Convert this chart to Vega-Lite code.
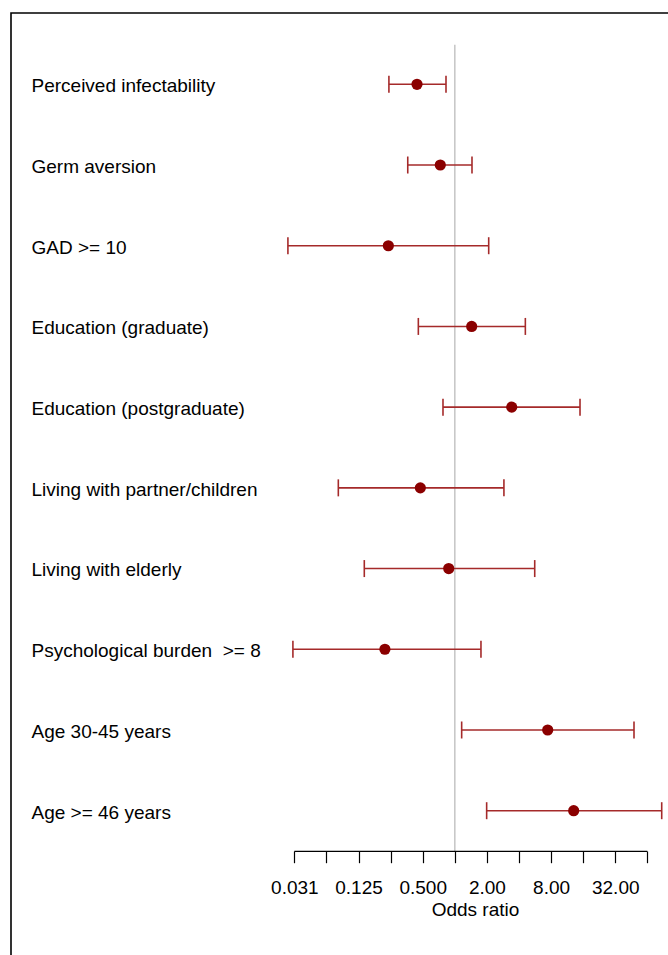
{
  "$schema": "https://vega.github.io/schema/vega-lite/v6.json",
  "width": 657,
  "height": 942,
  "autosize": "none",
  "padding": {"left": 11, "top": 13, "right": 0, "bottom": 0},
  "config": {
    "font": "Liberation Sans",
    "view": {"stroke": "black", "strokeWidth": 1.6, "strokeDash": [657, 1599, 950]},
    "axisX": {
      "grid": false, "domain": false, "ticks": true, "tickSize": 11.7, "tickColor": "black", "tickWidth": 1.2,
      "labelFontSize": 19, "labelColor": "black", "labelBaseline": "alphabetic", "labelPadding": 30.6,
      "labelOverlap": false, "labelFlush": false, "offset": -104,
      "titleFontSize": 19, "titleFontWeight": "normal", "titleColor": "black",
      "titleX": 464, "titleY": 64, "titleBaseline": "alphabetic", "titleAlign": "center"
    }
  },
  "data": {
    "values": [
      {"label": "Perceived infectability", "or": 0.442, "lower": 0.241, "upper": 0.827},
      {"label": "Germ aversion", "or": 0.731, "lower": 0.362, "upper": 1.45},
      {"label": "GAD >= 10", "or": 0.238, "lower": 0.0272, "upper": 2.08},
      {"label": "Education (graduate)", "or": 1.44, "lower": 0.455, "upper": 4.59},
      {"label": "Education (postgraduate)", "or": 3.42, "lower": 0.775, "upper": 14.95},
      {"label": "Living with partner/children", "or": 0.475, "lower": 0.0808, "upper": 2.89},
      {"label": "Living with elderly", "or": 0.877, "lower": 0.1416, "upper": 5.62},
      {"label": "Psychological burden\u00a0 >= 8", "or": 0.221, "lower": 0.0303, "upper": 1.76},
      {"label": "Age 30-45 years", "or": 7.44, "lower": 1.16, "upper": 47.98},
      {"label": "Age >= 46 years", "or": 13.04, "lower": 1.99, "upper": 87.3}
    ]
  },
  "resolve": {"scale": {"y": "independent"}, "axis": {"y": "independent"}},
  "layer": [
    {
      "data": {"values": [{}]},
      "layer": [
        {
          "mark": {"type": "rule", "color": "#c8c8c8", "strokeWidth": 1.6},
          "encoding": {
            "x": {
              "datum": 1, "type": "quantitative",
              "scale": {"type": "log", "base": 2, "domain": [0.0000687, 100], "nice": false},
              "axis": {
                "title": "Odds ratio",
                "values": [0.03125, 0.0625, 0.125, 0.25, 0.5, 1, 2, 4, 8, 16, 32, 64],
                "labelExpr": "indexof([0.03125, 0.125, 0.5, 2, 8, 32], datum.value) >= 0 ? (datum.value < 1 ? format(datum.value, '.3f') : format(datum.value, '.2f')) : ''"
              }
            },
            "y": {"datum": 0.5, "type": "quantitative", "scale": {"domain": [0.1075, 11.785], "reverse": true, "nice": false, "zero": false}, "axis": null},
            "y2": {"datum": 10.5}
          }
        },
        {
          "mark": {"type": "rule", "color": "black", "strokeWidth": 1.2},
          "encoding": {
            "x": {"datum": 0.03125, "type": "quantitative", "title": "Odds ratio"},
            "x2": {"datum": 64},
            "y": {"datum": 10.5, "type": "quantitative", "axis": null}
          }
        }
      ]
    },
    {
      "layer": [
        {
          "mark": {"type": "rule", "color": "#a52a2a", "strokeWidth": 1.6},
          "encoding": {
            "x": {"field": "lower", "type": "quantitative", "title": "Odds ratio"},
            "x2": {"field": "upper"},
            "y": {"field": "label", "type": "nominal", "sort": null, "scale": {"type": "point", "range": [71.3, 797.7], "padding": 0}, "axis": {"title": null, "domain": false, "ticks": false, "tickSize": 0, "labelAlign": "left", "labelBaseline": "alphabetic", "labelOffset": 7.4, "labelPadding": -20, "labelFontSize": 19, "labelColor": "black", "labelLimit": 0}}
          }
        },
        {
          "mark": {"type": "tick", "color": "#a52a2a", "thickness": 1.6, "size": 17, "opacity": 1},
          "encoding": {
            "x": {"field": "lower", "type": "quantitative", "title": "Odds ratio"},
            "y": {"field": "label", "type": "nominal", "sort": null}
          }
        },
        {
          "mark": {"type": "tick", "color": "#a52a2a", "thickness": 1.6, "size": 17, "opacity": 1},
          "encoding": {
            "x": {"field": "upper", "type": "quantitative", "title": "Odds ratio"},
            "y": {"field": "label", "type": "nominal", "sort": null}
          }
        },
        {
          "mark": {"type": "point", "filled": true, "color": "#8b0000", "size": 125, "opacity": 1},
          "encoding": {
            "x": {"field": "or", "type": "quantitative", "title": "Odds ratio"},
            "y": {"field": "label", "type": "nominal", "sort": null}
          }
        }
      ]
    }
  ]
}
